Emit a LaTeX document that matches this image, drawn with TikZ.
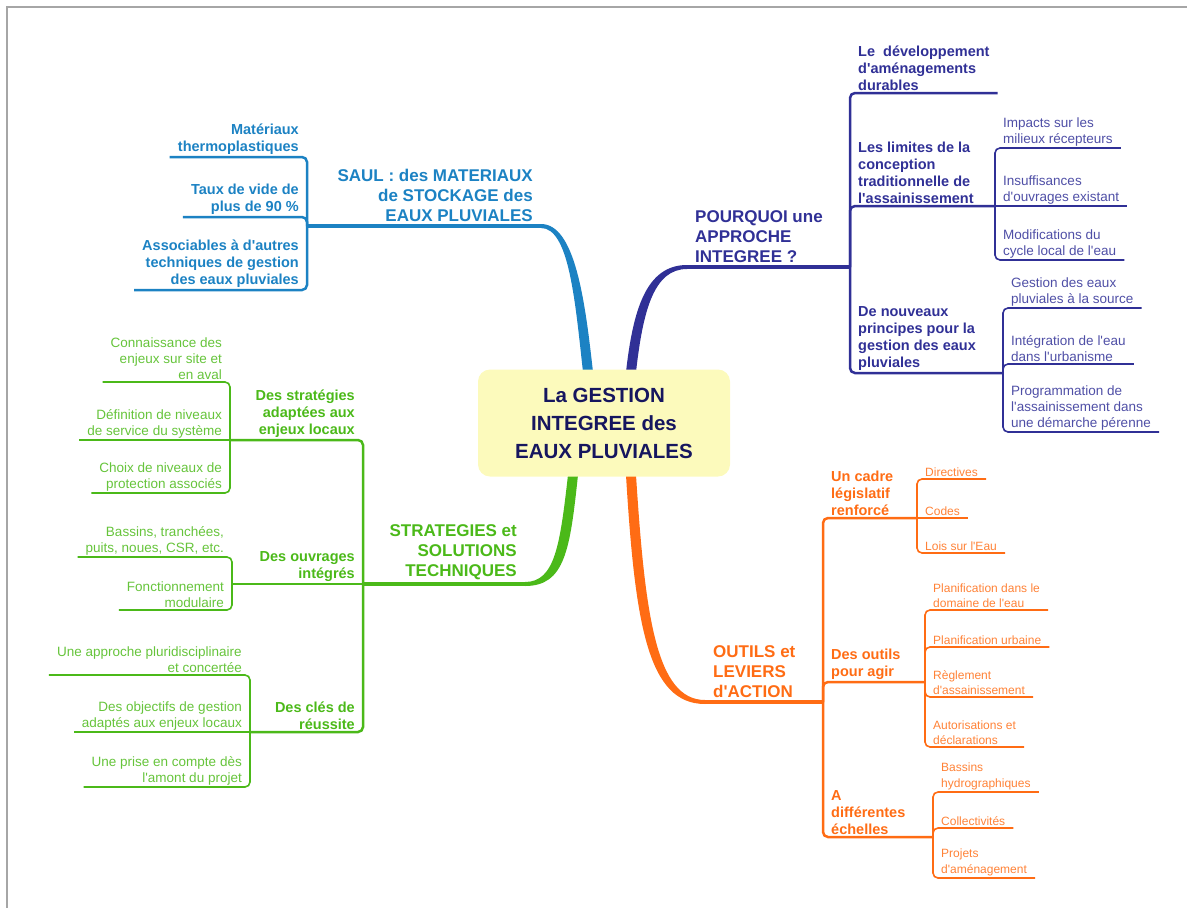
\documentclass[tikz,border=0pt]{standalone}
\usepackage{fontspec}
\setmainfont{Liberation Sans}
\newcommand{\ap}{\textquotesingle}
\definecolor{saulblue}{RGB}{28,130,195}
\definecolor{whypurple}{RGB}{48,48,150}
\definecolor{stratgreen}{RGB}{75,185,25}
\definecolor{toolorange}{RGB}{255,108,20}
\definecolor{hubyellow}{RGB}{252,250,188}
\definecolor{hubtext}{RGB}{22,22,95}
\begin{document}
\begin{tikzpicture}[x=1pt, y=-1pt,
	hub/.style={fill=hubyellow, rounded corners=12pt, minimum width=252pt, minimum height=107pt, align=center, text=hubtext, font=\fontsize{20.5}{28}\selectfont\bfseries},
	mainlbl/.style={font=\fontsize{17}{20}\selectfont\bfseries, inner xsep=8pt, inner ysep=4pt},
	sublbl/.style={font=\fontsize{14.5}{17}\selectfont\bfseries, inner xsep=8pt, inner ysep=2pt},
	leaflbl/.style={font=\fontsize{13.5}{16}\selectfont, inner xsep=8pt, inner ysep=2pt},
	smallleaf/.style={font=\fontsize{12}{15.5}\selectfont, inner xsep=8pt, inner ysep=2pt},
	toleft/.style={anchor=south east, align=right},
	toright/.style={anchor=south west, align=left},
	trunk/.style={line width=4pt},
	twig/.style={line width=2.5pt, rounded corners=5pt},
	leafline/.style={line width=1.6pt, rounded corners=5pt}]
	\useasboundingbox (0,0) rectangle (1187,908);
	\draw[gray!70, line width=1.2pt] (7,908) -- (7,7) -- (1187,7);

	\coordinate (sJ) at (307,226);
	\node[mainlbl, toleft, text=saulblue] (saul) at (541,226) {SAUL : des MATERIAUX\\de STOCKAGE des\\EAUX PLUVIALES};
	\node[sublbl, toleft, text=saulblue] (mat) at (307,157) {Matériaux\\thermoplastiques};
	\node[sublbl, toleft, text=saulblue] (taux) at (307,217) {Taux de vide de\\plus de 90 \%};
	\node[sublbl, toleft, text=saulblue] (asso) at (307,290) {Associables à d\ap{}autres\\techniques de gestion\\des eaux pluviales};
	\fill[saulblue] (541,224) .. controls (575,224) and (585,300) .. (593,372) -- (583,372) .. controls (575,300) and (569,228) .. (541,228) -- cycle;
	\draw[trunk, saulblue] (saul.south east) -- (sJ);
	\foreach \n in {mat, taux, asso}
		\draw[twig, saulblue] (sJ) -- (\n.south east) -- (\n.south west);

	\coordinate (pJ) at (850,267);
	\coordinate (limJ) at (995,206);
	\coordinate (nouJ) at (1003,373);
	\node[mainlbl, toright, text=whypurple] (why) at (687,267) {POURQUOI une\\APPROCHE\\INTEGREE ?};
	\node[sublbl, toright, text=whypurple] (dev) at (850,93) {Le\ \ développement\\d\ap{}aménagements\\durables};
	\node[sublbl, toright, text=whypurple] (lim) at (850,206) {Les limites de la\\conception\\traditionnelle de\\l\ap{}assainissement};
	\node[sublbl, toright, text=whypurple] (nou) at (850,373) {De nouveaux\\principes pour la\\gestion des eaux\\pluviales};
	\node[leaflbl, toright, text=whypurple!85] (imp) at (995,148) {Impacts sur les\\milieux récepteurs};
	\node[leaflbl, toright, text=whypurple!85] (insuf) at (995,206) {Insuffisances\\d\ap{}ouvrages existant};
	\node[leaflbl, toright, text=whypurple!85] (modif) at (995,260) {Modifications du\\cycle local de l\ap{}eau};
	\node[leaflbl, toright, text=whypurple!85] (gest) at (1003,308) {Gestion des eaux\\pluviales à la source};
	\node[leaflbl, toright, text=whypurple!85] (integ) at (1003,364) {Intégration de l\ap{}eau\\dans l\ap{}urbanisme};
	\node[leaflbl, toright, text=whypurple!85] (prog) at (1003,432) {Programmation de\\l\ap{}assainissement dans\\une démarche pérenne};
	\fill[whypurple] (687,265) .. controls (646,265) and (633,310) .. (626,372) -- (636,372) .. controls (643,310) and (654,269) .. (687,269) -- cycle;
	\draw[trunk, whypurple] (why.south west) -- (pJ);
	\draw[twig, whypurple] (pJ) -- (dev.south west) -- (dev.south east);
	\draw[twig, whypurple] (pJ) -- (lim.south west) -- (limJ);
	\draw[twig, whypurple] (pJ) -- (nou.south west) -- (nouJ);
	\foreach \n in {imp, modif}
		\draw[leafline, whypurple] (limJ) -- (\n.south west) -- (\n.south east);
	\draw[leafline, whypurple] (insuf.south west) -- (insuf.south east);
	\foreach \n in {gest, integ, prog}
		\draw[leafline, whypurple] (nouJ) -- (\n.south west) -- (\n.south east);

	\coordinate (gJ) at (363,584);
	\coordinate (stJ) at (230,440);
	\coordinate (ouJ) at (232,584);
	\coordinate (clJ) at (250,732);
	\node[mainlbl, toleft, text=stratgreen] (sol) at (525,584) {STRATEGIES et\\SOLUTIONS\\TECHNIQUES};
	\node[sublbl, toleft, text=stratgreen] (strat) at (363,440) {Des stratégies\\adaptées aux\\enjeux locaux};
	\node[sublbl, toleft, text=stratgreen] (ouvr) at (363,584) {Des ouvrages\\intégrés};
	\node[sublbl, toleft, text=stratgreen] (cles) at (363,732) {Des clés de\\réussite};
	\node[leaflbl, toleft, text=stratgreen!85] (conn) at (230,382) {Connaissance des\\enjeux sur site et\\en aval};
	\node[leaflbl, toleft, text=stratgreen!85] (defi) at (230,440) {Définition de niveaux\\de service du système};
	\node[leaflbl, toleft, text=stratgreen!85] (choix) at (230,493) {Choix de niveaux de\\protection associés};
	\node[leaflbl, toleft, text=stratgreen!85] (bass) at (232,557) {Bassins, tranchées,\\puits, noues, CSR, etc.};
	\node[leaflbl, toleft, text=stratgreen!85] (fonc) at (232,610) {Fonctionnement\\modulaire};
	\node[leaflbl, toleft, text=stratgreen!85] (appr) at (250,675) {Une approche pluridisciplinaire\\et concertée};
	\node[leaflbl, toleft, text=stratgreen!85] (obj) at (250,732) {Des objectifs de gestion\\adaptés aux enjeux locaux};
	\node[leaflbl, toleft, text=stratgreen!85] (prise) at (250,787) {Une prise en compte dès\\l\ap{}amont du projet};
	\fill[stratgreen] (578,475) .. controls (570,550) and (565,586) .. (525,586) -- (525,582) .. controls (555,582) and (560,545) .. (568,475) -- cycle;
	\draw[trunk, stratgreen] (sol.south east) -- (gJ);
	\draw[twig, stratgreen] (gJ) -- (strat.south east) -- (stJ);
	\draw[twig, stratgreen] (ouvr.south east) -- (ouJ);
	\draw[twig, stratgreen] (gJ) -- (cles.south east) -- (clJ);
	\foreach \n in {conn, choix}
		\draw[leafline, stratgreen] (stJ) -- (\n.south east) -- (\n.south west);
	\draw[leafline, stratgreen] (defi.south east) -- (defi.south west);
	\foreach \n in {bass, fonc}
		\draw[leafline, stratgreen] (ouJ) -- (\n.south east) -- (\n.south west);
	\foreach \n in {appr, prise}
		\draw[leafline, stratgreen] (clJ) -- (\n.south east) -- (\n.south west);
	\draw[leafline, stratgreen] (obj.south east) -- (obj.south west);

	\coordinate (oJ) at (823,702);
	\coordinate (caJ) at (917,518);
	\coordinate (agJ) at (925,682);
	\coordinate (ecJ) at (933,837);
	\node[mainlbl, toright, text=toolorange] (outils) at (705,702) {OUTILS et\\LEVIERS\\d\ap{}ACTION};
	\node[sublbl, toright, text=toolorange] (cadre) at (823,518) {Un cadre\\législatif\\renforcé};
	\node[sublbl, toright, text=toolorange] (agir) at (823,682) {Des outils\\pour agir};
	\node[sublbl, toright, text=toolorange] (ech) at (823,837) {A\\différentes\\échelles};
	\node[smallleaf, toright, text=toolorange!85] (dir) at (917,479) {Directives};
	\node[smallleaf, toright, text=toolorange!85] (codes) at (917,518) {Codes};
	\node[smallleaf, toright, text=toolorange!85] (lois) at (917,553) {Lois sur l\ap{}Eau};
	\node[smallleaf, toright, text=toolorange!85] (planE) at (925,610) {Planification dans le\\domaine de l\ap{}eau};
	\node[smallleaf, toright, text=toolorange!85] (planU) at (925,647) {Planification urbaine};
	\node[smallleaf, toright, text=toolorange!85] (regl) at (925,697) {Règlement\\d\ap{}assainissement};
	\node[smallleaf, toright, text=toolorange!85] (autor) at (925,747) {Autorisations et\\déclarations};
	\node[smallleaf, toright, text=toolorange!85] (bassH) at (933,792) {Bassins\\hydrographiques};
	\node[smallleaf, toright, text=toolorange!85] (coll) at (933,828) {Collectivités};
	\node[smallleaf, toright, text=toolorange!85] (proj) at (933,878) {Projets\\d\ap{}aménagement};
	\fill[toolorange] (626,475) .. controls (635,625) and (648,704) .. (705,704) -- (705,700) .. controls (656,700) and (645,615) .. (636,475) -- cycle;
	\draw[trunk, toolorange] (outils.south west) -- (oJ);
	\draw[twig, toolorange] (oJ) -- (cadre.south west) -- (caJ);
	\draw[twig, toolorange] (oJ) -- (agir.south west) -- (agJ);
	\draw[twig, toolorange] (oJ) -- (ech.south west) -- (ecJ);
	\foreach \n in {dir, lois}
		\draw[leafline, toolorange] (caJ) -- (\n.south west) -- (\n.south east);
	\draw[leafline, toolorange] (codes.south west) -- (codes.south east);
	\foreach \n in {planE, planU, regl, autor}
		\draw[leafline, toolorange] (agJ) -- (\n.south west) -- (\n.south east);
	\foreach \n in {bassH, coll, proj}
		\draw[leafline, toolorange] (ecJ) -- (\n.south west) -- (\n.south east);

	\node[hub] (hub) at (604,423) {La GESTION\\INTEGREE des\\EAUX PLUVIALES};
\end{tikzpicture}
\end{document}
